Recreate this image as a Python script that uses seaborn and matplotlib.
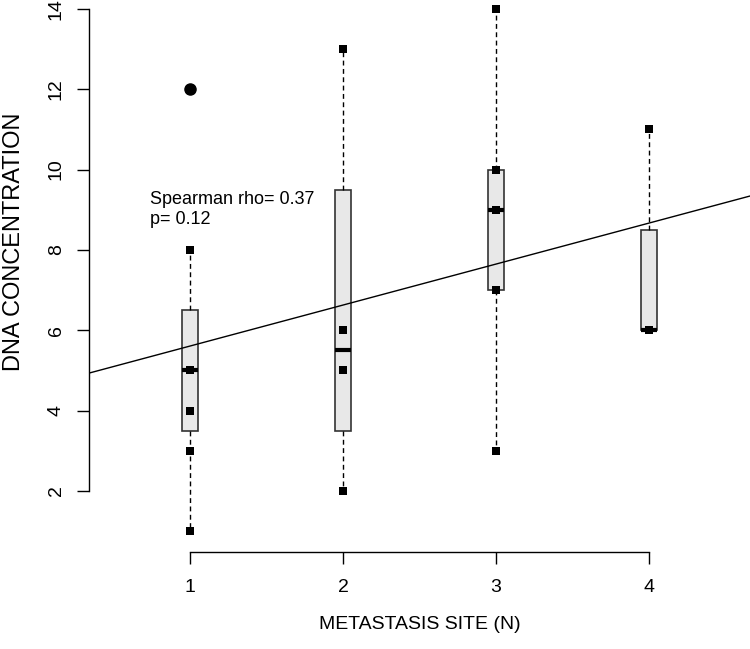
import numpy as np
import pandas as pd
import matplotlib
matplotlib.use("Agg")
import matplotlib.pyplot as plt
import seaborn as sns

# Data: DNA concentration per metastasis site count
site_1 = [1, 3, 4, 5, 5, 8, 12]
site_2 = [2, 5, 6, 13]
site_3 = [3, 7, 9, 10, 14]
site_4 = [6, 6, 11]
sites = [1, 2, 3, 4]
rho_text = "Spearman rho= 0.37\np= 0.12"

groups = [site_1, site_2, site_3, site_4]
df = pd.DataFrame({
    "site": np.repeat(sites, [len(g) for g in groups]),
    "dna": np.concatenate(groups),
})

sns.set_style("white")
plt.rcParams["font.family"] = ["Liberation Sans", "DejaVu Sans"]
plt.rcParams.update({"text.color": "black", "axes.labelcolor": "black",
                     "xtick.color": "black", "ytick.color": "black"})


def fivenum_stats(values, label):
    # Tukey hinges like R's boxplot()
    v = np.sort(np.asarray(values, dtype=float))
    n = len(v)
    n4 = np.floor((n + 3) / 2) / 2
    d = np.array([1, n4, (n + 1) / 2, n + 1 - n4, n]) - 1
    f = 0.5 * (v[np.floor(d).astype(int)] + v[np.ceil(d).astype(int)])
    iqr = f[3] - f[1]
    lo_lim, hi_lim = f[1] - 1.5 * iqr, f[3] + 1.5 * iqr
    inside = v[(v >= lo_lim) & (v <= hi_lim)]
    return {
        "label": label, "med": f[2], "q1": f[1], "q3": f[3],
        "whislo": inside.min(), "whishi": inside.max(),
        "fliers": v[(v < lo_lim) | (v > hi_lim)],
    }


fig = plt.figure(figsize=(7.5, 6.49), dpi=100)
ax = fig.add_axes([89 / 750, 97 / 649, 661 / 750, 564 / 649])
ax.set_xlim(0.34, 4.66)
ax.set_ylim(0.48, 14.52)

stats = [fivenum_stats(g, s) for g, s in zip(groups, sites)]
ax.bxp(stats, positions=sites, widths=0.1, patch_artist=True, showcaps=False,
       boxprops=dict(facecolor="#e8e8e8", edgecolor="#333333", linewidth=1.2),
       medianprops=dict(color="black", linewidth=3, solid_capstyle="butt"),
       whiskerprops=dict(color="black", linewidth=1, linestyle=(0, (3.5, 2.5))),
       flierprops=dict(marker="o", markerfacecolor="black", markeredgecolor="black",
                       markersize=8))

sns.scatterplot(data=df, x="site", y="dna", marker="s", color="black", s=30,
                linewidth=0, ax=ax, zorder=3)

sns.regplot(data=df, x="site", y="dna", scatter=False, ci=None, truncate=False,
            line_kws=dict(color="black", linewidth=1), ax=ax)
ax.set_xlim(0.34, 4.66)
ax.set_ylim(0.48, 14.52)

ax.text(0.739, 9.0, rho_text, ha="left", va="center", fontsize=13, linespacing=1.25)

ax.set_xticks(sites)
ax.set_xticklabels([str(s) for s in sites])
ax.set_yticks([2, 4, 6, 8, 10, 12, 14])
for lab in ax.get_yticklabels():
    lab.set_rotation(90)
    lab.set_va("center")
ax.tick_params(axis="x", length=8.5, width=1, pad=11, labelsize=14, direction="out",
               bottom=True)
ax.tick_params(axis="y", length=8.5, width=1, pad=9, labelsize=14, direction="out",
               left=True)

for side in ["top", "right"]:
    ax.spines[side].set_visible(False)
ax.spines["left"].set_bounds(2, 14)
ax.spines["bottom"].set_bounds(1, 4)
for side in ["left", "bottom"]:
    ax.spines[side].set_color("black")
    ax.spines[side].set_linewidth(1)

ax.set_xlabel("METASTASIS SITE (N)", fontsize=14, labelpad=14)
ax.set_ylabel("DNA CONCENTRATION", fontsize=17)
ax.yaxis.set_label_coords(-0.097, 0.55)

fig.savefig("out.png", dpi=100)
